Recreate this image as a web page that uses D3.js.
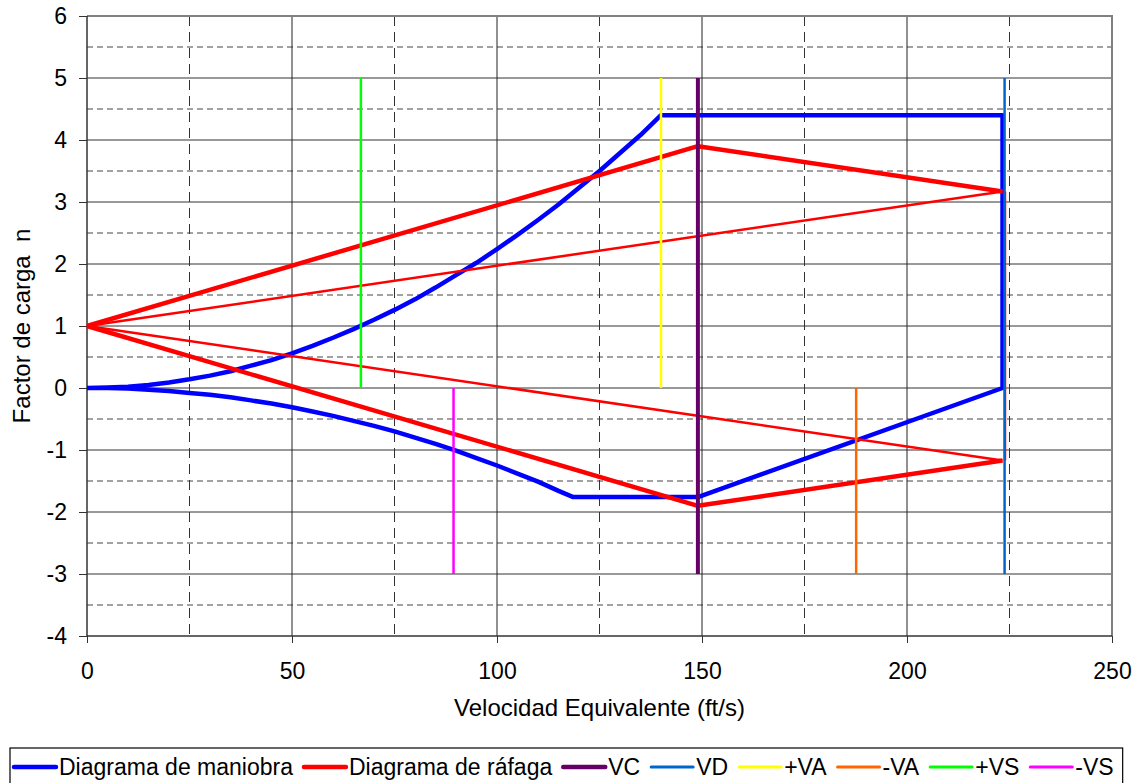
<!DOCTYPE html>
<html>
<head>
<meta charset="utf-8">
<script src="https://cdn.jsdelivr.net/npm/d3@7"></script>
<style>
  body { margin: 0; background: #fff; }
  svg { display: block; font-family: "Liberation Sans", Arial, sans-serif; }
</style>
</head>
<body>
<svg id="chart"></svg>
<script>
// diagrama de maniobra: curva positiva, techo, VD, recta negativa, curva negativa
const maniobraV = [0, 5, 10, 15, 20, 25, 30, 35, 40, 45, 50, 55, 60, 65, 70, 75, 80, 85, 90, 95,
                   100, 105, 110, 115, 120, 125, 130, 135, 140,
                   223.3, 223.3, 149, 118.6,
                   115, 110, 105, 100, 95, 90, 85, 80, 75, 70, 65, 60, 55, 50, 45, 40, 35, 30, 25, 20, 15, 10, 5, 0];
const maniobraN = [0, 0.01, 0.02, 0.05, 0.09, 0.14, 0.2, 0.27, 0.36, 0.45, 0.56, 0.68, 0.81, 0.95, 1.1, 1.26, 1.43, 1.62, 1.82, 2.02,
                   2.24, 2.47, 2.71, 2.96, 3.23, 3.5, 3.79, 4.08, 4.4,
                   4.4, 0, -1.76, -1.76,
                   -1.66, -1.51, -1.38, -1.25, -1.13, -1.01, -0.9, -0.8, -0.7, -0.61, -0.53, -0.45, -0.38, -0.31, -0.25, -0.2, -0.15, -0.11, -0.08, -0.05, -0.03, -0.01, 0, 0];

// diagrama de rafaga
const rafagaSupV = [0, 149, 223.3];
const rafagaSupN = [1, 3.9, 3.17];
const rafagaInfV = [0, 149, 223.3];
const rafagaInfN = [1, -1.9, -1.17];
const rafagaDiagSupV = [0, 223.3];
const rafagaDiagSupN = [1, 3.17];
const rafagaDiagInfV = [0, 223.3];
const rafagaDiagInfN = [1, -1.17];
const rafagaVertV = [223.9, 223.9];
const rafagaVertN = [3.17, -1.17];

// velocidades de referencia
const refNames = ['VC', 'VD', '+VA', '-VA', '+VS', '-VS'];
const refV = [149, 223.8, 140, 187.6, 66.8, 89.4];
const refTop = [5, 5, 5, 0, 5, 0];
const refBottom = [-3, -3, 0, -3, 0, -3];

const xTicks = [0, 50, 100, 150, 200, 250];
const yTicks = [-4, -3, -2, -1, 0, 1, 2, 3, 4, 5, 6];

const width = 1144;
const height = 783;
const plot = { left: 87, right: 1112, top: 16, bottom: 636 };

const refColors = ['#660066', '#0066CC', '#FFFF00', '#FF6600', '#00FF00', '#FF00FF'];
const refWidths = [4, 2.5, 2.5, 2.5, 2.5, 2.5];

const svg = d3.select('#chart').attr('width', width).attr('height', height);
svg.append('rect').attr('width', width).attr('height', height).attr('fill', '#fff');

const x = d3.scaleLinear().domain([0, 250]).range([plot.left, plot.right]);
const y = d3.scaleLinear().domain([-4, 6]).range([plot.bottom, plot.top]);

// rejilla
const grid = svg.append('g');
d3.range(-3.5, 6, 1).forEach(v => {
  grid.append('line').attr('x1', plot.left).attr('x2', plot.right).attr('y1', y(v)).attr('y2', y(v))
    .attr('stroke', '#444').attr('stroke-dasharray', '6,4');
});
d3.range(-3, 6, 1).forEach(v => {
  grid.append('line').attr('x1', plot.left).attr('x2', plot.right).attr('y1', y(v)).attr('y2', y(v))
    .attr('stroke', '#333');
});
[25, 75, 125, 175, 225].forEach(v => {
  grid.append('line').attr('x1', x(v)).attr('x2', x(v)).attr('y1', plot.top).attr('y2', plot.bottom)
    .attr('stroke', '#333').attr('stroke-dasharray', '10,6');
});
[50, 100, 150, 200].forEach(v => {
  grid.append('line').attr('x1', x(v)).attr('x2', x(v)).attr('y1', plot.top).attr('y2', plot.bottom)
    .attr('stroke', '#222');
});

// borde del area
svg.append('line').attr('x1', plot.left).attr('x2', plot.right + 1).attr('y1', plot.top).attr('y2', plot.top)
  .attr('stroke', '#808080').attr('stroke-width', 2);
svg.append('line').attr('x1', plot.right).attr('x2', plot.right).attr('y1', plot.top).attr('y2', plot.bottom)
  .attr('stroke', '#808080').attr('stroke-width', 2);

// ejes
const yAxis = d3.axisLeft(y).tickValues(yTicks).tickSize(8).tickPadding(12).tickFormat(d => String(d));
svg.append('g').attr('transform', `translate(${plot.left},0)`).call(yAxis)
  .call(g => g.select('.domain').remove())
  .call(g => g.selectAll('line').attr('stroke', '#333'))
  .call(g => g.selectAll('text').attr('font-size', 23).attr('fill', '#000').attr('font-family', 'Liberation Sans, Arial'));

const xAxis = d3.axisBottom(x).tickValues(xTicks).tickSize(7).tickPadding(20);
svg.append('g').attr('transform', `translate(0,${plot.bottom})`).call(xAxis)
  .call(g => g.select('.domain').remove())
  .call(g => g.selectAll('line').attr('stroke', '#333'))
  .call(g => g.selectAll('text').attr('font-size', 23).attr('fill', '#000').attr('font-family', 'Liberation Sans, Arial'));

svg.append('line').attr('x1', plot.left).attr('x2', plot.left).attr('y1', plot.top).attr('y2', plot.bottom)
  .attr('stroke', '#333').attr('stroke-width', 1.5);
svg.append('line').attr('x1', plot.left).attr('x2', plot.right).attr('y1', plot.bottom).attr('y2', plot.bottom)
  .attr('stroke', '#333').attr('stroke-width', 1.5);

// series
const line = d3.line().x(d => x(d[0])).y(d => y(d[1]));
const pts = (vs, ns) => vs.map((v, i) => [v, ns[i]]);

const series = svg.append('g').attr('fill', 'none').attr('stroke-linejoin', 'round');
series.append('path').attr('d', line(pts(maniobraV, maniobraN)))
  .attr('stroke', '#0000FF').attr('stroke-width', 4.5);

[[rafagaDiagSupV, rafagaDiagSupN], [rafagaDiagInfV, rafagaDiagInfN], [rafagaVertV, rafagaVertN]].forEach(([vs, ns]) => {
  series.append('path').attr('d', line(pts(vs, ns))).attr('stroke', '#FF0000').attr('stroke-width', 2.5);
});
[[rafagaSupV, rafagaSupN], [rafagaInfV, rafagaInfN]].forEach(([vs, ns]) => {
  series.append('path').attr('d', line(pts(vs, ns))).attr('stroke', '#FF0000').attr('stroke-width', 4.5);
});

refNames.forEach((name, i) => {
  series.append('path').attr('d', line([[refV[i], refTop[i]], [refV[i], refBottom[i]]]))
    .attr('stroke', refColors[i]).attr('stroke-width', refWidths[i]);
});

// titulos
svg.append('text').attr('x', (plot.left + plot.right) / 2).attr('y', 716).attr('text-anchor', 'middle')
  .attr('font-size', 24).text('Velocidad Equivalente (ft/s)');
svg.append('text').attr('transform', `translate(30,${(plot.top + plot.bottom) / 2}) rotate(-90)`)
  .attr('text-anchor', 'middle').attr('font-size', 24).attr('xml:space', 'preserve')
  .text('Factor de carga  n');

// leyenda
const legNames = ['Diagrama de maniobra', 'Diagrama de ráfaga'].concat(refNames);
const legColors = ['#0000FF', '#FF0000'].concat(refColors);
const legWidths = [4.5, 4.5, 4.5, 3, 3, 3, 3, 3];
const legBox = svg.append('rect').attr('x', 10).attr('y', 748).attr('height', 40)
  .attr('fill', '#fff').attr('stroke', '#000').attr('stroke-width', 1.2);
const leg = svg.append('g');
let cx = 14;
const ly = 767;
legNames.forEach((name, i) => {
  leg.append('line').attr('x1', cx).attr('x2', cx + 42).attr('y1', ly).attr('y2', ly)
    .attr('stroke', legColors[i]).attr('stroke-width', legWidths[i]).attr('stroke-linecap', 'round');
  const t = leg.append('text').attr('x', cx + 45).attr('y', ly + 8).attr('font-size', 23).text(name);
  cx += 45 + t.node().getComputedTextLength() + 11;
});
legBox.attr('width', cx - 10 - 2);
</script>
</body>
</html>
